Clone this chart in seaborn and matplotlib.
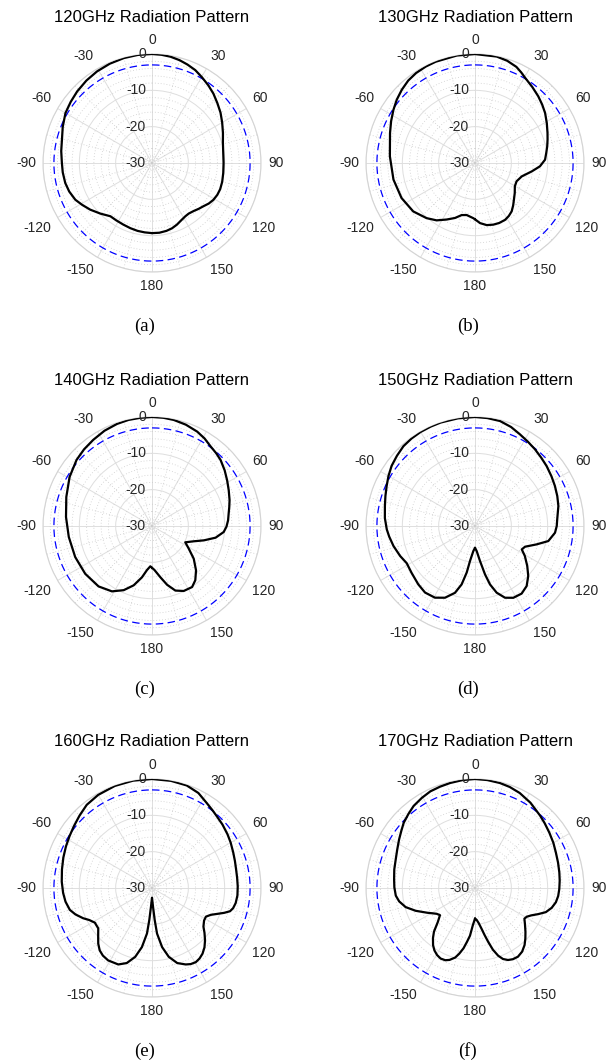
import numpy as np
import pandas as pd
import matplotlib
matplotlib.use("Agg")
import matplotlib.pyplot as plt
import seaborn as sns

# ---------------- data (angle in degrees, normalised gain in dB) ----------------
titles = ["120GHz Radiation Pattern", "130GHz Radiation Pattern",
          "140GHz Radiation Pattern", "150GHz Radiation Pattern",
          "160GHz Radiation Pattern", "170GHz Radiation Pattern"]
captions = ["(a)", "(b)", "(c)", "(d)", "(e)", "(f)"]

ang_120 = [-180, -174, -168, -161.6, -155, -148, -142, -134.4, -127.1, -121, -115.6, -109, -103, -96, -90,
           -82.5, -75.5, -68, -60, -53, -46.3, -38.5, -31, -23, -15, -7.5,
           0, 5, 9.8, 15, 19.8, 25, 30.3, 36, 41.5, 47.5, 53.7, 60, 67.1, 74, 82, 90, 98, 105, 111, 116,
           121, 125.5, 130, 134.5, 139, 144, 148, 153, 158, 163, 168, 174, 180]
db_120 = [-10.7, -10.8, -10.9, -11.1, -11.3, -11.4, -11.4, -10.1, -8.7, -7.6, -6.6, -5.9, -5.5, -5.3, -5.2,
          -4.8, -4.4, -3.5, -2.5, -2.0, -1.5, -1.0, -0.6, -0.3, -0.1, 0.0,
          0.0, -0.1, -0.3, -0.7, -1.2, -1.8, -2.7, -3.6, -4.5, -5.6, -6.6, -7.7, -8.8, -9.7, -10.2, -10.3, -10.2,
          -10.0, -9.9, -10.0, -10.3, -10.8, -11.5, -12.0, -12.5, -12.8, -12.7, -12.3, -11.7, -11.2, -10.9,
          -10.7, -10.7]

ang_130 = [-180, -178.3, -170.9, -165.6, -160, -153.4, -146.2, -138.7, -128.1, -115.5, -101.5, -85.5, -70.6,
           -63.5, -56.9, -51, -45, -39, -33.2, -27, -21.2, -9.6,
           0, 11.5, 17.5, 23.3, 27, 30.5, 37, 43.5, 49, 54.5, 61, 67.5, 72, 77, 82, 87.3, 92.9, 98.4, 105.9,
           113.7, 120.3, 127, 133.2, 138, 142.8, 147.5, 152.1, 158, 163.4, 169.3, 175.2, 180]
db_130 = [-14.5, -14.8, -15.5, -15.2, -13.9, -12.6, -11.0, -9.8, -8.4, -7.6, -7.1, -6.5, -5.2,
          -4.2, -3.2, -2.3, -1.5, -0.8, -0.4, -0.2, -0.1, 0.0,
          -0.02, -0.1, -0.5, -1.2, -2.0, -2.8, -3.8, -4.7, -5.5, -6.3, -7.4, -8.4, -9.0, -9.6, -10.2, -10.7,
          -12.1, -14.2, -16.6, -17.5, -17.3, -16.3, -15.3, -14.3, -13.3, -12.7, -12.3, -12.2, -12.3, -12.6,
          -13.4, -14.5]

ang_140 = [-180, -177.6, -173.5, -168.9, -162.8, -156.2, -148.5, -138.5, -125.6, -112, -97.5, -84, -71.3,
           -59.2, -48.8, -41.5, -34.3, -26.5, -18.9, -12.5, -6.2,
           0, 6, 11.6, 18.5, 25.6, 31, 36.4, 41.5, 46.1, 52.5, 58.7, 65, 71.6, 76.2, 80.5, 85.7, 90.5, 94.8,
           100.4, 105.5, 110.2, 116.1, 121.7, 128.1, 135.2, 141.4, 146.7, 154, 160.1, 165.6, 170.7, 176.9, 180]
db_140 = [-18.5, -18.9, -17.8, -15.6, -12.9, -10.7, -8.9, -7.8, -7.4, -7.2, -6.9, -6.2, -5.1,
          -3.6, -2.4, -1.8, -1.3, -0.7, -0.3, -0.1, -0.05,
          0.0, -0.05, -0.2, -0.6, -1.2, -1.9, -2.8, -3.3, -3.8, -4.8, -5.8, -6.7, -7.5, -8.1, -8.6, -9.0, -9.5,
          -10.2, -12.2, -15.2, -17.8, -19.8, -18.1, -15.4, -12.8, -10.9, -9.9, -10.1, -11.1, -13.3, -15.7,
          -17.9, -18.5]

ang_150 = [-180, -176.2, -171.9, -169.9, -167.1, -163.3, -157.3, -150.8, -143.1, -135.8, -126.4, -118.6,
           -111.8, -103.8, -97, -92.2, -85, -77.5, -71.5, -65.6, -60, -54.2, -48, -41.9, -36, -30.1, -24,
           -18.4, -9,
           0, 6.5, 13.4, 20, 26.1, 32, 38, 44, 50.1, 57, 63.4, 70, 76.5, 85.4, 90, 94.8, 101.6, 106.6, 112.5,
           116.6, 121, 127.4, 133.2, 139.3, 145.4, 151.9, 157.3, 162, 165.6, 168.3, 171.9, 176.2, 180]
db_150 = [-24.0, -23.1, -20.3, -17.0, -13.5, -10.8, -8.6, -7.4, -7.1, -7.6, -8.3, -8.6,
          -7.8, -6.9, -6.2, -5.7, -5.1, -4.6, -4.0, -3.3, -2.5, -1.7, -1.1, -0.5, -0.25, -0.1, -0.05,
          0.0, 0.0,
          0.0, -0.1, -0.3, -1.0, -1.9, -2.6, -3.2, -3.8, -4.3, -4.9, -5.4, -5.9, -6.4, -7.3, -7.5, -7.9,
          -9.4, -12.3, -15.1, -15.6, -14.0, -11.9, -9.9, -8.2, -7.4, -7.6, -8.6, -10.7, -13.4, -16.4, -20.3,
          -23.1, -24.0]

ang_160 = [-180, -176.9, -175.2, -173.7, -170.3, -166.3, -161.4, -156.2, -148.8, -144, -140, -136, -132.2,
           -126.9, -121.2, -117, -113.7, -109, -104.9, -99, -93.2, -86, -78.4, -71, -64.3, -58, -51.8, -45,
           -38.1, -30, -20, -10,
           0, 10, 18.7, 26, 32.9, 38, 42.2, 48, 54.6, 60, 66.4, 72, 77.6, 83, 88.9, 95, 100.2, 104, 106.6,
           109, 111.5, 114.5, 118, 122, 126.9, 130.5, 134.6, 138.5, 142.4, 146, 149.4, 153, 156.2, 161.4,
           166.3, 170.3, 173.7, 175.2, 176.9, 180]
db_160 = [-27.3, -24.9, -21.2, -17.4, -13.5, -10.5, -8.2, -7.0, -6.7, -7.0, -7.6, -8.7, -10.0,
          -11.5, -11.6, -10.6, -9.3, -7.7, -6.6, -5.9, -5.5, -5.1, -4.7, -4.2, -3.7, -3.2, -2.6, -1.8,
          -0.9, -0.4, -0.1, 0.0,
          0.0, -0.05, -0.2, -0.9, -2.2, -2.9, -3.4, -3.9, -4.5, -5.0, -5.6, -6.0, -6.3, -6.4, -6.4, -6.4,
          -6.6, -7.0, -7.6, -9.0, -10.6, -12.2, -13.2, -13.1, -12.3, -11.0, -9.5, -8.2, -7.2, -6.6, -6.3,
          -6.5, -7.0, -8.2, -10.5, -13.5, -17.4, -21.2, -24.9, -27.3]

ang_170 = [-180, -176.5, -174, -171.5, -169.2, -166.5, -164.1, -160.5, -157.6, -154, -150.5, -147, -143.7,
           -140, -136.8, -132.3, -127.8, -124, -120.5, -117.4, -111, -105.4, -100, -95.5, -89.5, -83.7, -77,
           -70.1, -63.5, -57.4, -52, -47.5, -42, -36.8, -30.5, -24.8, -19, -13.3, -6.5,
           0, 6.5, 13.3, 19, 25.2, 33, 41.9, 47, 53.4, 60, 66.4, 73, 79.6, 85, 90.7, 95.5, 100, 104.5, 108.8,
           112.5, 116, 119, 121.8, 126, 131, 135, 139, 143.5, 148, 152, 155.4, 158.5, 161.1, 163.8, 166.2,
           168.5, 170.8, 174, 177, 180]
db_170 = [-21.6, -19.6, -16.8, -15.0, -13.1, -11.4, -10.1, -9.0, -8.5, -8.4, -8.8, -9.5, -10.5,
          -12.0, -13.5, -16.2, -17.8, -17.3, -16.3, -15.2, -12.5, -10.2, -8.8, -8.1, -7.8, -7.6, -7.2,
          -6.8, -6.1, -5.2, -4.3, -3.4, -2.6, -1.8, -1.2, -0.7, -0.5, -0.3, -0.1,
          0.0, -0.1, -0.3, -0.6, -1.1, -2.0, -3.2, -3.8, -4.5, -5.1, -5.7, -6.1, -6.4, -6.6, -6.8, -7.0,
          -7.4, -8.2, -9.4, -11.2, -12.8, -13.7, -14.0, -13.0, -11.6, -10.4, -9.2, -8.2, -7.7, -7.8, -8.2,
          -9.0, -10.3, -12.3, -14.7, -16.8, -18.6, -20.3, -21.2, -21.6]

panels_ang = [ang_120, ang_130, ang_140, ang_150, ang_160, ang_170]
panels_db = [db_120, db_130, db_140, db_150, db_160, db_170]

theta_ticks = [0, 30, 60, 90, 120, 150, 180, 210, 240, 270, 300, 330]
theta_labels = ["0", "30", "60", "90", "120", "150", "180", "-150", "-120", "-90", "-60", "-30"]
r_ticks = [-30, -20, -10, 0]
r_labels = ["-30", "-20", "-10", "0"]
r_minor = [-28, -26, -24, -22, -18, -16, -14, -12, -8, -6, -4, -2]
theta_minor = [15, 45, 75, 105, 135, 165, 195, 225, 255, 285, 315, 345]
half_power_db = -3
r_min, r_max = -30, 0

# ---------------- layout ----------------
W, H = 613, 1064
R = 109
centers = [(152, 163), (475, 163), (152, 526), (475, 526), (152, 888), (475, 888)]

sns.set_style("white")
plt.rcParams["font.family"] = ["Liberation Sans", "DejaVu Sans"]

fig = plt.figure(figsize=(W / 100, H / 100), dpi=100)

grid_major = "#dedede"
grid_minor = "#cccccc"
tick_color = "#262626"

ref_theta = np.deg2rad(np.arange(0, 361, 1))

for i in range(6):
    cx, cy = centers[i]
    ax = fig.add_axes([(cx - R) / W, 1 - (cy + R) / H, 2 * R / W, 2 * R / H], projection="polar")
    ax.set_theta_zero_location("N")
    ax.set_theta_direction(-1)
    ax.set_ylim(r_min, r_max)

    ax.set_xticks(np.deg2rad(theta_ticks))
    ax.set_xticks(np.deg2rad(theta_minor), minor=True)
    ax.set_yticks(r_ticks)
    ax.set_yticks(r_minor, minor=True)
    ax.set_xticklabels([])
    ax.set_yticklabels([])
    ax.tick_params(which="both", length=0)
    ax.grid(True, which="major", color=grid_major, linewidth=0.7, linestyle="-")
    ax.grid(True, which="minor", color=grid_minor, linewidth=0.6, linestyle=(0, (1, 2.5)))
    ax.spines["polar"].set_color("#d4d4d4")
    ax.spines["polar"].set_linewidth(0.8)
    ax.set_facecolor("white")

    # -3 dB reference circle
    ax.plot(ref_theta, np.full(ref_theta.shape, half_power_db), color="#0000ff",
            linewidth=0.9, linestyle=(0, (6, 3.5)), zorder=3)

    df = pd.DataFrame({"theta": np.deg2rad(panels_ang[i]), "gain": panels_db[i]})
    sns.lineplot(data=df, x="theta", y="gain", sort=False, estimator=None,
                 color="black", linewidth=1.6, ax=ax, zorder=4)
    ax.lines[-1].set_solid_joinstyle("round")
    ax.set_xlabel("")
    ax.set_ylabel("")

    # theta labels (MATLAB-like placement)
    gap = 7
    for a, lab in zip(theta_ticks, theta_labels):
        rad = np.deg2rad(a)
        s, c = np.sin(rad), np.cos(rad)
        ha = "left" if s > 0.01 else ("right" if s < -0.01 else "center")
        va = "bottom" if c > 0.01 else ("top" if c < -0.01 else "center")
        ax.annotate(lab, xy=(rad, r_max), xytext=(gap * s, gap * c),
                    textcoords="offset pixels", ha=ha, va=va, fontsize=10,
                    color=tick_color, annotation_clip=False)
    # radial labels
    for rv, lab in zip(r_ticks, r_labels):
        ax.annotate(lab, xy=(0, rv), xytext=(-6, 0), textcoords="offset pixels",
                    ha="right", va="center", fontsize=10, color=tick_color,
                    annotation_clip=False, zorder=5)

    fig.text(cx / W, 1 - (cy - 146) / H, titles[i], ha="center", va="center",
             fontsize=12, color="#000000")
    fig.text((cx - 7) / W, 1 - (cy + 163) / H, captions[i], ha="center", va="center",
             fontsize=13.5, family="Liberation Serif", color="black")

fig.savefig("out.png", dpi=100, facecolor="white")
